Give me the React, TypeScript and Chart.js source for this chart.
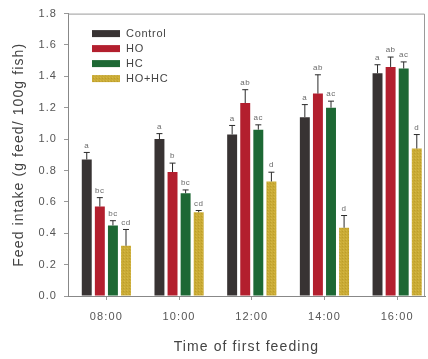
import React, { useEffect, useRef } from "react";
import { Chart, registerables } from "chart.js";

Chart.register(...registerables);

// Feeding time groups
const categories = ["08:00", "10:00", "12:00", "14:00", "16:00"];

// Mean feed intake (g feed / 100 g fish) per treatment
const controlValues = [0.87, 1.0, 1.03, 1.14, 1.42];
const hoValues = [0.57, 0.79, 1.23, 1.29, 1.46];
const hcValues = [0.45, 0.655, 1.06, 1.2, 1.45];
const hoHcValues = [0.32, 0.534, 0.73, 0.435, 0.94];

// Upper error (SE) per treatment
const controlErrors = [0.045, 0.035, 0.057, 0.08, 0.054];
const hoErrors = [0.057, 0.057, 0.085, 0.12, 0.063];
const hcErrors = [0.03, 0.021, 0.031, 0.042, 0.042];
const hoHcErrors = [0.104, 0.011, 0.059, 0.078, 0.089];

// Significance letters
const controlLetters = ["a", "a", "a", "a", "a"];
const hoLetters = ["bc", "b", "ab", "ab", "ab"];
const hcLetters = ["bc", "bc", "ac", "ac", "ac"];
const hoHcLetters = ["cd", "cd", "d", "d", "d"];

// Y axis ticks
const yTicks = [0, 0.2, 0.4, 0.6, 0.8, 1.0, 1.2, 1.4, 1.6, 1.8];

const FONT = "'Liberation Sans', Arial, sans-serif";

// Finely dotted mustard fill for the combined treatment
function makeDotPattern(): CanvasPattern | string {
  const c = document.createElement("canvas");
  c.width = 3;
  c.height = 3;
  const g = c.getContext("2d");
  if (!g) return "#c9aa33";
  g.fillStyle = "#caab35";
  g.fillRect(0, 0, 3, 3);
  g.fillStyle = "#bb9d2b";
  g.fillRect(0, 0, 1, 1);
  g.fillStyle = "#d3b748";
  g.fillRect(1, 2, 1, 1);
  return g.createPattern(c, "repeat") || "#c9aa33";
}

const series = [
  { label: "Control", values: controlValues, errors: controlErrors, letters: controlLetters, color: "#383333" },
  { label: "HO", values: hoValues, errors: hoErrors, letters: hoLetters, color: "#b31f2e" },
  { label: "HC", values: hcValues, errors: hcErrors, letters: hcLetters, color: "#1d6834" },
  { label: "HO+HC", values: hoHcValues, errors: hoHcErrors, letters: hoHcLetters, color: "#c9aa33" },
];

// Slightly spaced lettering for all axis text
const spacingPlugin = {
  id: "letterSpacing",
  beforeDraw(chart: any) {
    chart.ctx.letterSpacing = "1.1px";
  },
};

// Error bars and letters above each bar
const errorBarPlugin = {
  id: "errorBars",
  afterDatasetsDraw(chart: any) {
    const ctx = chart.ctx;
    const yScale = chart.scales.y;
    ctx.save();
    ctx.letterSpacing = "0.5px";
    series.forEach((s, di) => {
      const meta = chart.getDatasetMeta(di);
      meta.data.forEach((bar: any, i: number) => {
        const x = bar.x;
        const yTop = yScale.getPixelForValue(s.values[i]);
        const yErr = yScale.getPixelForValue(s.values[i] + s.errors[i]);
        ctx.strokeStyle = "#2a2a2a";
        ctx.lineWidth = 1;
        ctx.beginPath();
        ctx.moveTo(x, yTop);
        ctx.lineTo(x, yErr);
        ctx.moveTo(x - 3, yErr);
        ctx.lineTo(x + 3, yErr);
        ctx.stroke();
        ctx.fillStyle = "#6a6a6a";
        ctx.font = `8px ${FONT}`;
        ctx.textAlign = "center";
        ctx.textBaseline = "bottom";
        ctx.fillText(s.letters[i], x, yErr - 3);
      });
    });
    ctx.restore();
  },
};

// Frame around the plot and the inset legend
const framePlugin = {
  id: "frameLegend",
  afterDraw(chart: any) {
    const { ctx, chartArea } = chart;
    ctx.save();
    ctx.strokeStyle = "#9a9a9a";
    ctx.lineWidth = 1;
    ctx.beginPath();
    ctx.moveTo(chartArea.left, chartArea.top + 0.5);
    ctx.lineTo(chartArea.right - 0.5, chartArea.top + 0.5);
    ctx.lineTo(chartArea.right - 0.5, chartArea.bottom);
    ctx.stroke();

    const lx = chartArea.left + 24;
    const ly = chartArea.top + 20;
    ctx.letterSpacing = "0.7px";
    series.forEach((s, i) => {
      const cy = ly + i * 15;
      ctx.fillStyle = chart.data.datasets[i].backgroundColor;
      ctx.fillRect(lx, cy - 3.5, 28, 7);
      ctx.fillStyle = "#444";
      ctx.font = `11px ${FONT}`;
      ctx.textAlign = "left";
      ctx.textBaseline = "middle";
      ctx.fillText(s.label, lx + 34, cy);
    });
    ctx.restore();
  },
};

export default function App() {
  const canvasRef = useRef<HTMLCanvasElement | null>(null);

  useEffect(() => {
    if (!canvasRef.current) return;
    const dotFill = makeDotPattern();
    const chart = new Chart(canvasRef.current, {
      type: "bar",
      data: {
        datasets: series.map((s, si) => ({
          label: s.label,
          data: s.values.map((v, i) => ({ x: i, y: v })),
          backgroundColor: si === 3 ? dotFill : s.color,
          borderWidth: 0,
          categoryPercentage: 0.72,
          barPercentage: 0.76,
        })),
      },
      options: {
        responsive: false,
        animation: false,
        layout: { padding: { top: 12, right: 3, left: 0, bottom: 0 } },
        plugins: {
          legend: { display: false },
          tooltip: { enabled: false },
        },
        scales: {
          x: {
            type: "linear",
            min: -0.528,
            max: 4.383,
            offset: false,
            afterBuildTicks: (scale: any) => {
              scale.ticks = categories.map((_, i) => ({ value: i }));
            },
            afterFit: (scale: any) => {
              scale.height = 63;
            },
            ticks: {
              autoSkip: false,
              maxRotation: 0,
              padding: 10,
              color: "#555",
              font: { family: FONT, size: 11 },
              callback: (v: any) => categories[v] ?? "",
            },
            grid: {
              display: true,
              drawOnChartArea: false,
              drawTicks: true,
              tickLength: 4,
              color: "#999",
              offset: false,
            },
            border: { display: true, color: "#888" },
            title: {
              display: true,
              text: "Time of first feeding",
              color: "#444",
              font: { family: FONT, size: 14 },
              padding: { top: 0, bottom: 3 },
            },
          },
          y: {
            min: 0,
            max: 1.8,
            afterBuildTicks: (scale: any) => {
              scale.ticks = yTicks.map((v) => ({ value: v }));
            },
            afterFit: (scale: any) => {
              scale.width = 68;
            },
            ticks: {
              padding: 7,
              color: "#555",
              font: { family: FONT, size: 11 },
              callback: (v: any) => Number(v).toFixed(1),
            },
            grid: {
              display: true,
              drawOnChartArea: false,
              drawTicks: true,
              tickLength: 4,
              color: "#999",
            },
            border: { display: true, color: "#888" },
            title: {
              display: true,
              text: "Feed intake (g feed/ 100g fish)",
              color: "#444",
              font: { family: FONT, size: 14 },
              padding: { top: 11, bottom: 0 },
            },
          },
        },
      },
      plugins: [spacingPlugin, errorBarPlugin, framePlugin],
    });
    return () => chart.destroy();
  }, []);

  return (
    <div style={{ position: "fixed", left: 0, top: 0, width: 428, height: 359, background: "#fff" }}>
      <canvas ref={canvasRef} width={428} height={359} />
    </div>
  );
}
